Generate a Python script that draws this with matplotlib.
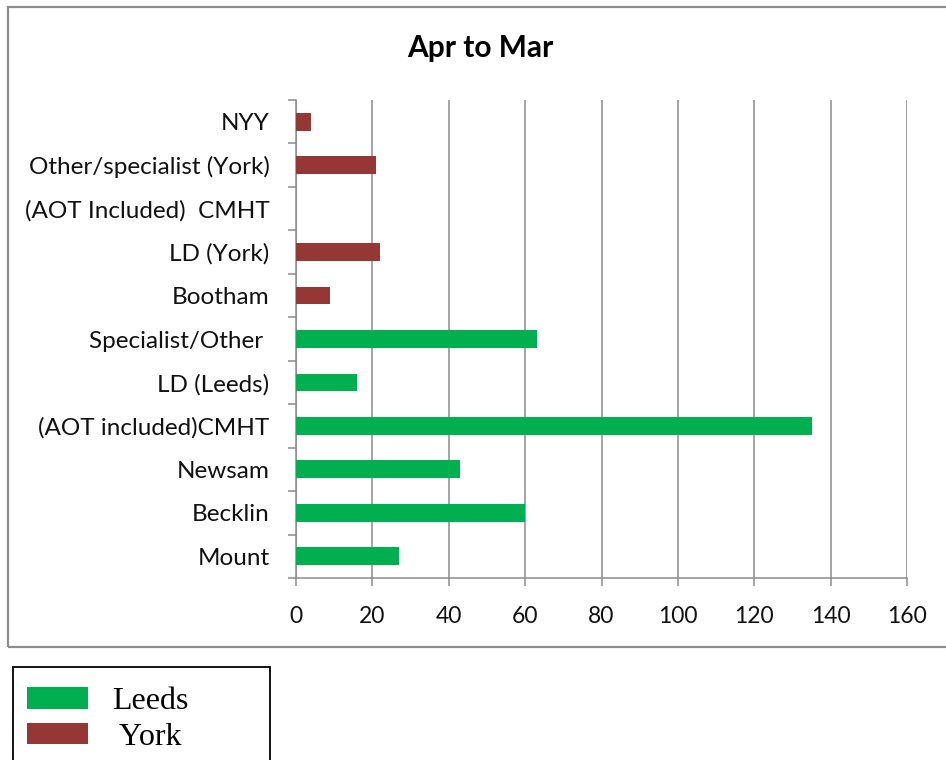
import numpy as np
import matplotlib
matplotlib.use("Agg")
import matplotlib.pyplot as plt
from matplotlib.patches import Rectangle, Patch

# data, bottom to top as drawn
leeds_units = ["Mount", "Becklin", "Newsam", "(AOT included)CMHT", "LD (Leeds)", "Specialist/Other "]
leeds_counts = [27, 60, 43, 135, 16, 63]
york_units = ["Bootham", "LD (York)", "(AOT Included)  CMHT", "Other/specialist (York)", "NYY"]
york_counts = [9, 22, 0, 21, 4]
x_ticks = [0, 20, 40, 60, 80, 100, 120, 140, 160]

GREEN = "#00B050"
RED = "#953735"
GRID = "#8C8C8C"

plt.rcParams["font.family"] = ["Lato", "DejaVu Sans"]

fig = plt.figure(figsize=(9.46, 7.6), dpi=100)
W, H = 946, 760

# outer chart border
fig.patches.append(Rectangle((8 / W, 1 - 647 / H), 950 / W, 640 / H, transform=fig.transFigure,
                             fill=False, edgecolor=GRID, linewidth=1.6))

ax = fig.add_axes([296 / W, 1 - 578 / H, (907 - 296) / W, (578 - 100) / H])

labels = leeds_units + york_units
n = len(labels)
leeds_pos = np.arange(len(leeds_units))
york_pos = np.arange(len(leeds_units), n)

ax.barh(leeds_pos, leeds_counts, height=0.41, color=GREEN, zorder=3)
ax.barh(york_pos, york_counts, height=0.41, color=RED, zorder=3)

ax.set_xlim(0, 160)
ax.set_ylim(-0.5, n - 0.5)
ax.set_xticks(x_ticks)
ax.set_yticks(np.arange(n))
ax.set_yticklabels(labels)
ax.set_yticks(np.arange(n + 1) - 0.5, minor=True)

ax.grid(axis="x", color=GRID, linewidth=1.1, zorder=0)
for s in ["top", "right"]:
    ax.spines[s].set_visible(False)
for s in ["left", "bottom"]:
    ax.spines[s].set_color(GRID)
    ax.spines[s].set_linewidth(1.1)

ax.tick_params(axis="y", which="major", length=0, pad=19, labelsize=17.5, labelcolor="#111111")
ax.tick_params(axis="y", which="minor", length=6, color=GRID, width=1.1)
ax.tick_params(axis="x", which="major", length=6, color=GRID, width=1.1, pad=14,
               labelsize=16.5, labelcolor="#111111")

fig.text(480 / W, 1 - 48 / H, "Apr to Mar", ha="center", va="center",
         fontsize=21.5, fontweight="bold")

# legend box below the chart
fig.patches.append(Rectangle((13 / W, 1 - 790 / H), 257 / W, 123 / H, transform=fig.transFigure,
                             fill=False, edgecolor="black", linewidth=1.3))
handles = [Patch(facecolor=GREEN), Patch(facecolor=RED)]
fig.legend(handles, ["Leeds", " York"], loc="upper left",
           bbox_to_anchor=(5 / W, 1 - 665 / H), frameon=False,
           prop={"family": "Liberation Serif", "size": 23},
           handlelength=1.9, handleheight=0.65, handletextpad=0.75,
           labelspacing=0.2, borderpad=0.2)

fig.savefig("out.png", dpi=100)
